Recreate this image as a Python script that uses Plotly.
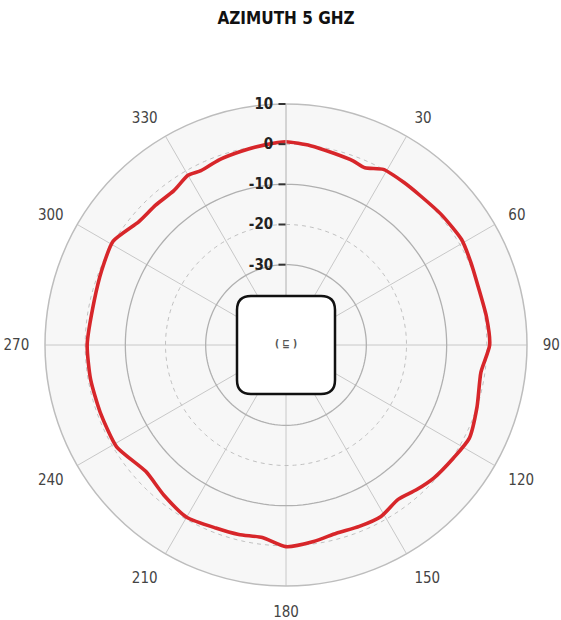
import plotly.graph_objects as go

# ---- data ----
theta_deg = [0, 7, 14, 20, 24, 29, 36, 42, 50, 59, 66, 73, 82, 90, 98, 108, 117, 124, 132, 138, 144,
             151, 158, 165, 172, 180, 187, 194, 201, 210, 219, 228, 239, 250, 260, 270, 283, 292, 301,
             310, 317, 324, 330, 334, 340, 347, 354, 360]
gain_db = [0.6, 0.0, -0.8, -1.2, -1.7, 0.0, 0.0, 0.0, 0.5, 1.0, 0.4, 0.0, 0.4, 0.7, -1.0, 0.0, 1.2,
           0.3, -0.5, -1.5, -2.5, -1.2, -1.3, -1.5, -0.6, 0.2, -1.7, -1.4, -1.2, -0.5, -1.8, -3.0,
           -0.8, -0.8, -0.6, -0.5, -1.0, -0.5, 0.2, -2.2, -2.4, -2.5, -1.2, -1.7, -1.0, -0.5, 0.1, 0.6]

radial_ticks = [-30, -20, -10, 0, 10]
radial_labels = ["<b>-30</b>", "<b>-20</b>", "<b>-10</b>", "<b>0</b>", "<b>10</b>"]
solid_rings = [-30, -10]
dashed_rings = [-20, 0]
angle_ticks = list(range(0, 360, 30))
angle_labels = ["" if a == 0 else str(a) for a in angle_ticks]
ring_theta = list(range(0, 361, 2))

title_text = "AZIMUTH 5 GHZ"

W, H = 561, 620
cx, cy, R = 286, 345, 241
FONT = "Liberation Sans Narrow, DejaVu Sans Condensed, Roboto, sans-serif"

fig = go.Figure()

for rv in solid_rings:
    fig.add_trace(go.Scatterpolar(r=[rv] * len(ring_theta), theta=ring_theta, mode="lines",
                                  line=dict(color="#b0b0b0", width=1.3), hoverinfo="skip", showlegend=False))
for rv in dashed_rings:
    fig.add_trace(go.Scatterpolar(r=[rv] * len(ring_theta), theta=ring_theta, mode="lines",
                                  line=dict(color="#c0c0c0", width=1, dash="4px,4px"), hoverinfo="skip", showlegend=False))

fig.add_trace(go.Scatterpolar(r=gain_db, theta=theta_deg, mode="lines",
                              line=dict(color="#d7262a", width=3.6, shape="spline", smoothing=0.6),
                              showlegend=False))

fig.update_layout(
    width=W, height=H,
    margin=dict(l=0, r=0, t=0, b=0),
    paper_bgcolor="white",
    font=dict(family=FONT),
    polar=dict(
        domain=dict(x=[(cx - R) / W, (cx + R) / W], y=[(H - cy - R) / H, (H - cy + R) / H]),
        bgcolor="#f7f7f7",
        angularaxis=dict(
            direction="clockwise", rotation=90,
            tickmode="array", tickvals=angle_ticks, ticktext=angle_labels,
            showgrid=True, gridcolor="#c8c8c8", gridwidth=1,
            showline=True, linecolor="#bdbdbd", linewidth=1.5,
            ticks="outside", ticklen=12, tickcolor="rgba(0,0,0,0)",
            tickfont=dict(size=15, color="#444444", family=FONT),
        ),
        radialaxis=dict(
            range=[-50, 10], angle=90, tickangle=90,
            tickmode="array", tickvals=radial_ticks, ticktext=radial_labels,
            showgrid=False, showline=True, linecolor="#c8c8c8", linewidth=1,
            ticks="outside", ticklen=7, tickcolor="#333333", tickwidth=2,
            tickfont=dict(size=15, color="#222222", family=FONT),
            side="counterclockwise",
        ),
    ),
    title=dict(text="<b>" + title_text + "</b>", x=cx / W, xanchor="center", y=1 - 18 / H, yanchor="middle",
               font=dict(size=17, color="#111111", family=FONT)),
    shapes=[dict(
        type="path", xref="paper", yref="paper", xsizemode="pixel", ysizemode="pixel",
        xanchor=cx / W, yanchor=1 - cy / H,
        path="M -49,-35 Q -49,-49 -35,-49 L 35,-49 Q 49,-49 49,-35 L 49,35 Q 49,49 35,49 L -35,49 Q -49,49 -49,35 Z",
        fillcolor="white", line=dict(color="#111111", width=2.5), layer="above",
    )],
    annotations=[dict(text="<b>( ⊑ )</b>", x=cx / W, y=1 - (cy - 2) / H, xref="paper", yref="paper",
                      showarrow=False, font=dict(size=10, color="#555555"))],
)

fig.write_html("out.html", config={"displayModeBar": False},
               post_script="document.body.style.margin='0';")
